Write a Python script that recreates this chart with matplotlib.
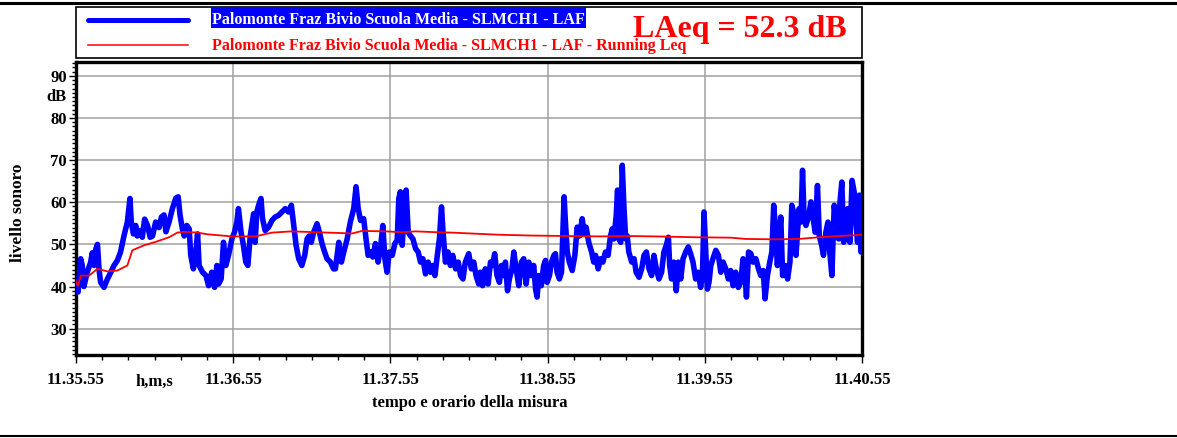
import matplotlib
matplotlib.use("Agg")
import matplotlib.pyplot as plt
from matplotlib.lines import Line2D
from matplotlib.patches import Rectangle
from matplotlib.ticker import MultipleLocator, FixedLocator

# ---------------- data ----------------
# seconds after 11.35.55
laf_t = [0, 0.8, 1.8, 2.4, 3, 4.3, 5.6, 6.2, 6.9, 7.6, 8.2, 8.8, 9.4, 10.7, 12, 13.3, 14.5, 15.8, 17, 18.3,
         19.6, 20.6, 21.1, 21.9, 22.8, 23.4, 24.5, 25.3, 26.2, 27.3, 28.3, 29.2, 30.4, 31.7, 32.6, 33.6, 34.3,
         35.5, 36.8, 38.1, 39, 39.7, 40.6, 41.3, 42.3, 43.2, 43.8, 44.8, 45.7, 46.4, 47, 48.3, 49.6,
         50.6, 51.8, 52.9, 53.8, 54.4, 55.4, 56.3, 57.2, 58.2, 59.5, 60.5, 61.4, 62, 63, 63.9, 64.8, 65.6,
         66.5, 67.8, 68.4, 69, 69.7, 70.6, 71.2, 72.2, 73.5, 74.8, 76, 77.3, 78.6, 79.9, 81.1, 82.2, 83.1,
         84, 85, 86.2, 87.3, 88.2, 89, 89.8, 90.7, 92, 92.9, 93.9, 94.9, 95.8, 97.1, 98.3,
         99, 100.3, 101.3, 102.2, 103.5, 104.7, 106, 106.9, 107.7, 108.6, 109.8, 110.7, 111.5, 112.4, 113.3,
         114.3, 115.3, 116.2, 117.1, 117.9, 118.7, 119.6, 120.7, 121.7, 122.6, 123.2, 123.8, 124.5, 125.2,
         126, 126.8, 127.7, 128.6, 129.6, 130.6, 131.5, 132.4, 133.4, 134.4, 135.3, 136.2, 137, 137.9,
         138.7, 139.5, 140.1, 141, 142, 142.9, 143.8, 144.9, 145.9, 146.8, 147.7,
         148.6, 149.9, 150.9, 151.8, 152.7, 153.7, 154.3, 155.2, 156.2, 157.3, 158.2, 159, 159.8, 160.7,
         161.6, 162.4, 163.3, 163.9, 164.7, 165.4, 166.4, 167.1, 168, 169, 170, 170.9, 171.8, 172.8, 173.8,
         174.7, 175.4, 176, 176.6, 177.6, 178.5, 179.2, 179.8, 180.7, 181.5, 182.4, 183, 183.6, 184.5,
         185.3, 185.8, 186.3, 186.8, 187.5, 188.3, 189.4, 190.4, 191.3, 192.2, 193.2, 194, 194.7, 195.7,
         196.8, 197.6,
         198.3, 199.3, 200.2, 201.1, 202.1, 203.1, 204, 204.7, 205.3, 206.2, 206.7, 207.2, 207.9, 208.5,
         209.1, 209.8, 210.4, 211, 212.1, 213, 213.8, 214.9, 215.9, 216.8, 217.7, 218.7, 219.7, 220.6,
         221.5, 222.5, 223.5, 224.4, 225.3, 226.1, 226.6, 227.3, 228.2, 229.1, 229.9, 230.8, 231.7, 232.7,
         233.7, 234.6, 235.5, 236.5, 237.5, 238.4, 239.1, 239.7, 240.3, 241, 241.6, 242.3, 243.1, 244.2,
         245.2, 246.1, 247,
         248, 249, 249.9, 250.8, 251.8, 252.8, 253.7, 254.6, 255.4, 255.9, 256.7, 257.6, 258.4, 259.5,
         260.5, 261.4, 262.3, 263, 263.9, 264.8, 265.6, 266.3, 267.1, 267.7, 268.4, 269, 269.7, 270.7,
         271.6, 272.5, 273.2, 273.9, 274.8, 275.4, 276, 276.7, 277.3, 277.9, 278.6, 279.6, 280.5, 281.4,
         282.1, 283, 283.7, 284.6, 285.3, 286.2, 287, 287.7, 288.5, 289.4, 290.3, 291.1, 291.6, 292.3,
         293, 293.9, 294.6, 295.4, 296.2, 297, 297.7, 298.3, 299, 299.6, 300]
laf_db = [41, 38.7, 46.6, 45, 40, 43.4, 45.8, 48, 45, 49, 50, 44, 41, 39.8, 41.8, 43.4, 45, 46.2, 48.2, 52,
          55.3, 60.9, 55.3, 52.5, 54.5, 52, 53.3, 51.7, 56, 54.5, 51.7, 52, 55.3, 54, 56.5, 57, 53,
          55.3, 58.5, 61, 61.3, 57, 53.7, 52, 54.5, 53.7, 47.4, 44.2, 48.2, 52.5, 45, 43.4, 42.6,
          40.2, 43.4, 39.8, 45, 40.6, 41.8, 50.5, 45, 47.4, 51.3, 52.9, 55.3, 58.5, 52.9, 49.8, 45.8, 45,
          52, 57.3, 50.5, 57.7, 59.3, 60.9, 56.1, 53.3, 54.1, 55.7, 56.5, 56.9, 57.7, 58.5, 57.7, 59.3, 54.5,
          49.8, 46.6, 45, 47.4, 51.3, 52, 50.5, 52.9, 54.9, 52.9, 50.2, 48.2, 46.6, 45.8, 44.2,
          44.2, 50.5, 45.8, 48.2, 51.3, 55.3, 58.5, 63.7, 58.5, 55.7, 56.1, 51.3, 47.4, 48.2, 47,
          50.2, 45.8, 49, 54.5, 46.6, 43.4, 48.2, 47.4, 50.2, 51, 60.9, 62.5, 49.8, 56.9,
          62.9, 52.9, 52, 51.3, 49, 48.2, 45.8, 46.6, 43, 45.8, 43.4, 45, 42.6, 47.4,
          51.3, 58.9, 52.9, 45.8, 48.2, 45, 47.4, 44.2, 45.8, 42.6, 41.8,
          45.8, 47.8, 44.2, 45.8, 42.6, 40.6, 43.4, 40.2, 44.2, 40.6, 45.8, 45, 47.8, 42.6,
          41, 45, 42.6, 45.8, 39, 41.8, 44.2, 48.2, 44.2, 40.2, 45.8, 46.6, 40.6, 45.8, 42.6,
          45, 39.4, 37.5, 42.6, 40.2, 45, 46.2, 41, 42.6, 45.8, 47.4, 47.8, 43.4, 41.8,
          43.4, 52, 61.3, 55.3, 48.2, 45.8, 43.8, 47.4, 54.1, 52, 56.1, 52.5, 54.1, 50.5,
          48.2, 45.8,
          47.4, 44.2, 46.6, 45.8, 48.2, 47.4, 52, 53.7, 51.3, 56.9, 62.9, 51.3, 50.5, 68.8,
          59.3, 51.3, 52, 48.2, 45.8, 46.6, 43.4, 42.2, 44.2, 47.4, 48.2, 44.2, 42.6, 47.4,
          44.2, 41.8, 43.4, 48.2, 49.8, 51.7, 45, 41.8, 45.8, 39, 45.8, 41.8, 46.6, 48.2,
          49.4, 47.8, 45.8, 41.8, 43.4, 39.8, 42.6, 57.7, 49, 39.4, 41, 45, 46.6, 48.6,
          47.4, 43.4, 45.8,
          44.2, 41.8, 43.8, 40.2, 43.4, 39.8, 41, 46.6, 42.6, 37.5, 48.2, 47.8, 45.8, 46.6,
          44.2, 42.6, 43.8, 37.1, 42.6, 45.8, 48.2, 59.3, 52.9, 45, 51.3, 56.5, 42.6, 45,
          41.8, 45.8, 59.3, 57.7, 47.4, 52.9, 58.5, 55.3, 67.6, 56.1, 54.5, 56.5, 60.1, 56.1,
          52.9, 64, 52, 49.8, 47.4, 52.9, 55.3, 48.2, 42.6, 59.3, 54.5, 51.3, 60.1, 64.8,
          50.5, 54.5, 58.5, 50.5, 65.2, 62.5, 55.3, 50.5, 61.7, 48.2, 52.9]

leq_t = [0, 0.8, 1.8, 5, 8.2, 12, 15.8, 19.6, 21.5, 26, 30.4, 35.5, 38.7, 41.3, 46.4, 50.2,
         59.5, 68.4, 74.8, 82.4, 91.3, 100.9, 105.4, 109.2, 118.1, 124.5, 129.6, 137.2, 143.6, 150.6,
         161.3, 174.1, 186.8, 200.2, 209.8, 221.2, 236.5, 249.9, 255.6, 267.1, 276, 283.7, 291.3, 300]
leq_db = [41.2, 40.2, 42.6, 42.6, 44.2, 43.6, 43.8, 45, 48.6, 49.8, 50.6, 51.7, 52.8, 53, 52.8, 52.4,
          51.9, 51.9, 52.8, 53.1, 52.9, 52.7, 52.6, 53.2, 53.1, 52.9, 53.1, 52.9, 52.8, 52.6,
          52.3, 52.1, 52.0, 51.9, 52.0, 51.9, 51.7, 51.6, 51.3, 51.2, 51.3, 51.7, 52.0, 52.3]

x_tick_pos = [0, 60, 120, 180, 240, 300]
x_tick_labels = ["11.35.55", "11.36.55", "11.37.55", "11.38.55", "11.39.55", "11.40.55"]
y_tick_pos = [30, 40, 50, 60, 70, 80, 90]
series_name = "Palomonte Fraz Bivio Scuola Media - SLMCH1 - LAF"
leq_name = "Palomonte Fraz Bivio Scuola Media - SLMCH1 - LAF - Running Leq"
laeq_text = "LAeq = 52.3 dB"

# ---------------- figure ----------------
W, H = 1177, 438
fig = plt.figure(figsize=(W / 100, H / 100), dpi=100)
FONT = "Liberation Serif"
plt.rcParams["font.family"] = [FONT, "DejaVu Serif"]
plt.rcParams["font.weight"] = "bold"


def fx(px):
    return px / W


def fy(py):
    return 1 - py / H


ax = fig.add_axes([fx(76), fy(355), (862 - 76) / W, (355 - 62) / H])
ax.plot(laf_t, laf_db, color="#0000ff", lw=4.0, solid_joinstyle="round", zorder=3)
ax.plot(leq_t, leq_db, color="#ff0000", lw=1.3, zorder=4)

ax.set_xlim(0, 300)
ax.set_ylim(23.75, 93.3)
ax.xaxis.set_major_locator(FixedLocator(x_tick_pos))
ax.set_xticklabels(x_tick_labels)
ax.xaxis.set_minor_locator(MultipleLocator(10))
ax.yaxis.set_major_locator(FixedLocator(y_tick_pos))
ax.yaxis.set_minor_locator(MultipleLocator(1))
ax.grid(True, which="major", color="#a0a0a0", lw=1.1, zorder=0)
for s in ax.spines.values():
    s.set_linewidth(2.4)
    s.set_color("black")
ax.tick_params(axis="x", which="major", length=6, width=1, direction="out", pad=6)
ax.tick_params(axis="x", which="minor", length=3.5, width=1, direction="out")
ax.tick_params(axis="y", which="major", length=5, width=1, direction="out", pad=1.5)
ax.tick_params(axis="y", which="minor", length=3, width=1, direction="out")
for lab in ax.get_xticklabels() + ax.get_yticklabels():
    lab.set_fontsize(12)
    lab.set_fontweight("bold")
    lab.set_fontfamily(FONT)

ax.text(30, -0.065, "h,m,s", transform=ax.get_xaxis_transform(), ha="center", va="top",
        fontsize=12, fontweight="bold", family=FONT)
ax.text(-0.0115, 85, "dB", transform=ax.get_yaxis_transform(), ha="right", va="center",
        fontsize=12, fontweight="bold", family=FONT)

fig.text(fx(18), fy(213), "livello sonoro", rotation=90, ha="center", va="center",
         fontsize=12.5, fontweight="bold", family=FONT)
fig.text(fx(470), fy(403), "tempo e orario della misura", ha="center", va="center",
         fontsize=12, fontweight="bold", family=FONT)

# legend box
fig.add_artist(Rectangle((fx(76), fy(58)), (862 - 76) / W, (58 - 7) / H, transform=fig.transFigure,
                         fill=False, edgecolor="black", lw=1.2))
fig.add_artist(Line2D([fx(88), fx(188)], [fy(20), fy(20)], color="#0000ff", lw=3.6,
                      solid_capstyle="round"))
fig.add_artist(Line2D([fx(88), fx(188)], [fy(45), fy(45)], color="#ff0000", lw=1.1))
fig.add_artist(Rectangle((fx(211), fy(28)), (586 - 211) / W, (28 - 7.5) / H, transform=fig.transFigure,
                         facecolor="#0000ff", edgecolor="none"))
fig.text(fx(212), fy(24), series_name, color="white", ha="left", va="baseline",
         fontsize=11.6, fontweight="bold", family=FONT)
fig.text(fx(212), fy(50), leq_name, color="#ff0000", ha="left", va="baseline",
         fontsize=11.5, fontweight="bold", family=FONT)
fig.text(fx(633), fy(37), laeq_text, color="#ff0000", ha="left", va="baseline",
         fontsize=23, fontweight="bold", family=FONT)

# page rules
fig.add_artist(Line2D([0, 1], [fy(3), fy(3)], color="black", lw=2.2))
fig.add_artist(Line2D([0, 1], [fy(436), fy(436)], color="black", lw=1.5))

fig.savefig("out.png", dpi=100)
